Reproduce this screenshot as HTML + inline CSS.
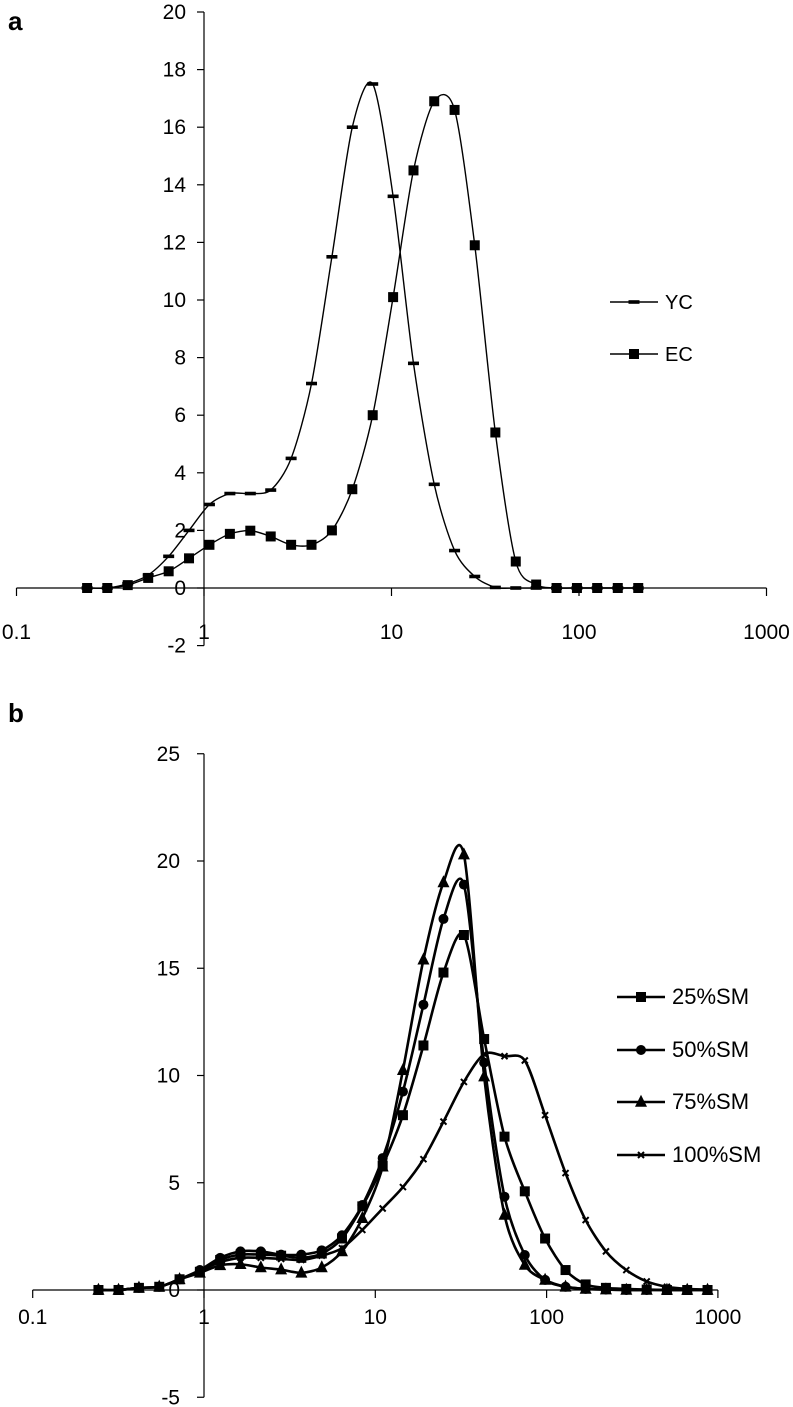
<!DOCTYPE html>
<html><head><meta charset="utf-8"><style>
html,body{margin:0;padding:0;background:#fff;}
svg{display:block;font-family:"Liberation Sans",sans-serif;}
</style></head><body>
<svg id="fig" width="793" height="1407" viewBox="0 0 793 1407" xmlns="http://www.w3.org/2000/svg">
<text x="8" y="30" font-size="26" font-weight="bold">a</text>
<text x="8" y="722" font-size="26" font-weight="bold">b</text>
<g id="chartA"></g>
<g id="chartB"></g>
</svg>
<script>
// ---- Chart a data ----
const aSizes = [0.238,0.305,0.392,0.504,0.648,0.832,1.069,1.374,1.766,2.269,2.915,3.745,4.81,6.18,7.94,10.2,13.1,16.9,21.7,27.8,35.8,46.0,59.1,75.9,97.5,125,161,207];
const aYC = [0,0,0.15,0.45,1.1,2.0,2.9,3.28,3.28,3.4,4.5,7.1,11.5,16.0,17.5,13.6,7.8,3.6,1.3,0.4,0.02,0,0,0,0,0,0,0];
const aEC = [0,0,0.1,0.35,0.58,1.03,1.5,1.88,1.99,1.79,1.5,1.5,2.0,3.43,6.0,10.1,14.5,16.9,16.6,11.9,5.4,0.92,0.12,0,0,0,0,0];
const aYTicks = [-2,0,2,4,6,8,10,12,14,16,18,20];
const aXTicks = [0.1,1,10,100,1000];
const aXTickLabels = ["0.1","1","10","100","1000"];
// ---- Chart b data ----
const bSizes = [0.242,0.317,0.417,0.548,0.720,0.946,1.243,1.633,2.146,2.82,3.70,4.87,6.39,8.40,11.04,14.5,19.1,25.0,32.9,43.2,56.8,74.6,98.0,129,169,222,292,384,504,662,870];
const b25 = [0,0,0.1,0.15,0.5,0.85,1.4,1.65,1.65,1.6,1.5,1.7,2.4,3.9,5.8,8.15,11.4,14.8,16.55,11.7,7.15,4.6,2.4,0.93,0.26,0.1,0.05,0.02,0,0,0];
const b50 = [0,0,0.1,0.15,0.5,0.93,1.5,1.8,1.8,1.65,1.65,1.85,2.55,3.96,6.15,9.25,13.3,17.3,18.9,10.6,4.35,1.63,0.47,0.15,0.05,0.02,0,0,0,0,0];
const b75 = [0,0,0.1,0.15,0.5,0.8,1.15,1.2,1.05,0.95,0.8,1.05,1.8,3.35,5.75,10.25,15.4,19.0,20.3,9.95,3.5,1.17,0.47,0.15,0.05,0.02,0,0,0,0,0];
const b100 = [0,0,0.1,0.15,0.5,0.9,1.3,1.5,1.5,1.45,1.4,1.6,1.95,2.8,3.8,4.8,6.1,7.85,9.7,11.0,10.9,10.7,8.15,5.45,3.26,1.8,0.93,0.4,0.15,0.05,0.02];
const bYTicks = [-5,0,5,10,15,20,25];
const bXTicks = [0.1,1,10,100,1000];
const bXTickLabels = ["0.1","1","10","100","1000"];

const NS="http://www.w3.org/2000/svg";
function mk(tag, attrs, parent){const e=document.createElementNS(NS,tag);for(const k in attrs)e.setAttribute(k,attrs[k]);parent.appendChild(e);return e;}
function smooth(pts){
  let d="M"+pts[0][0].toFixed(2)+","+pts[0][1].toFixed(2);
  for(let i=0;i<pts.length-1;i++){
    const p0=pts[Math.max(0,i-1)],p1=pts[i],p2=pts[i+1],p3=pts[Math.min(pts.length-1,i+2)];
    const t=1/7;
    const c1=[p1[0]+(p2[0]-p0[0])*t,p1[1]+(p2[1]-p0[1])*t];
    const c2=[p2[0]-(p3[0]-p1[0])*t,p2[1]-(p3[1]-p1[1])*t];
    d+=" C"+c1[0].toFixed(2)+","+c1[1].toFixed(2)+" "+c2[0].toFixed(2)+","+c2[1].toFixed(2)+" "+p2[0].toFixed(2)+","+p2[1].toFixed(2);
  }
  return d;
}
function marker(type,x,y,g,s){
  let e;
  if(type==="dash"){e=mk("rect",{x:x-5.5,y:y-1.8,width:11,height:3.6},g);}
  else if(type==="square"){e=mk("rect",{x:x-s/2,y:y-s/2,width:s,height:s},g);}
  else if(type==="circle"){e=mk("circle",{cx:x,cy:y,r:s/2},g);}
  else if(type==="tri"){e=mk("polygon",{points:(x)+","+(y-s*0.6)+" "+(x-s/2)+","+(y+s*0.4)+" "+(x+s/2)+","+(y+s*0.4)},g);}
  else {e=mk("path",{d:"M"+(x-3)+","+(y-3)+"L"+(x+3)+","+(y+3)+"M"+(x-3)+","+(y+3)+"L"+(x+3)+","+(y-3),stroke:"#000","stroke-width":2},g);}
  
  
  e.setAttribute('fill','#000');
  return e;
}
function buildChart(root,cfg){
  const X=v=>cfg.x1+(Math.log10(v))*cfg.dec;
  const Y=v=>cfg.y0-v*cfg.unit;
  const fs=21;
  const ya=mk("line",{x1:cfg.x1,y1:Y(cfg.yTicks[cfg.yTicks.length-1]),x2:cfg.x1,y2:Y(cfg.yTicks[0]),stroke:"#000","stroke-width":1.2},root);
  
  
  cfg.yTicks.forEach(v=>{
    const t=mk("line",{x1:cfg.x1-7,y1:Y(v),x2:cfg.x1,y2:Y(v),stroke:"#000","stroke-width":1.2},root);
    
    
    const l=mk("text",{x:cfg.ylx,y:Y(v)+7,"font-size":fs,"text-anchor":"end"},root);
    l.textContent=String(v);
    
    
  });
  const xa=mk("line",{x1:X(cfg.xTicks[0]),y1:Y(0),x2:X(cfg.xTicks[cfg.xTicks.length-1]),y2:Y(0),stroke:"#000","stroke-width":1.2},root);
  
  
  cfg.xTicks.forEach((v,i)=>{
    const t=mk("line",{x1:X(v),y1:Y(0),x2:X(v),y2:Y(0)+8,stroke:"#000","stroke-width":1.2},root);
    
    
    const l=mk("text",{x:X(v),y:cfg.xly,"font-size":fs,"text-anchor":"middle"},root);
    l.textContent=cfg.xLabels[i];
    
    
  });
  cfg.series.forEach(s=>{
    const g=mk("g",{},root);
    
    
    const pts=cfg.sizes.map((sz,i)=>[X(sz),Y(s.vals[i])]);
    const p=mk("path",{d:smooth(pts),fill:"none",stroke:"#000","stroke-width":cfg.lw},g);
    
    
    pts.forEach(pt=>marker(s.m,pt[0],pt[1],g,s.ms));
    const lg=mk("g",{},root);
    
    
    mk("line",{x1:cfg.legX,y1:s.ly,x2:cfg.legX+48,y2:s.ly,stroke:"#000","stroke-width":cfg.lw},lg);
    marker(s.m,cfg.legX+24,s.ly,lg,s.ms);
    const lt=mk("text",{x:cfg.legX+55,y:s.ly+7,"font-size":cfg.legFs},lg);
    lt.textContent=s.name;
    
    
  });
}
buildChart(document.getElementById("chartA"),{
  x1:204,dec:187.5,y0:588,unit:28.8,yTicks:aYTicks,xTicks:aXTicks,xLabels:aXTickLabels,
  ylx:186,xly:639,sizes:aSizes,lw:1.4,legX:610,legFs:20,
  series:[{name:"YC",vals:aYC,m:"dash",ms:10,ly:302},{name:"EC",vals:aEC,m:"square",ms:10,ly:354}]
});
buildChart(document.getElementById("chartB"),{
  x1:204,dec:171.3,y0:1290,unit:21.45,yTicks:bYTicks,xTicks:bXTicks,xLabels:bXTickLabels,
  ylx:180,xly:1324,sizes:bSizes,lw:2.6,legX:617,legFs:22,
  series:[{name:"25%SM",vals:b25,m:"square",ms:10,ly:997},{name:"50%SM",vals:b50,m:"circle",ms:10,ly:1050},
          {name:"75%SM",vals:b75,m:"tri",ms:12,ly:1102},{name:"100%SM",vals:b100,m:"x",ms:6,ly:1155}]
});
</script>
</body></html>
